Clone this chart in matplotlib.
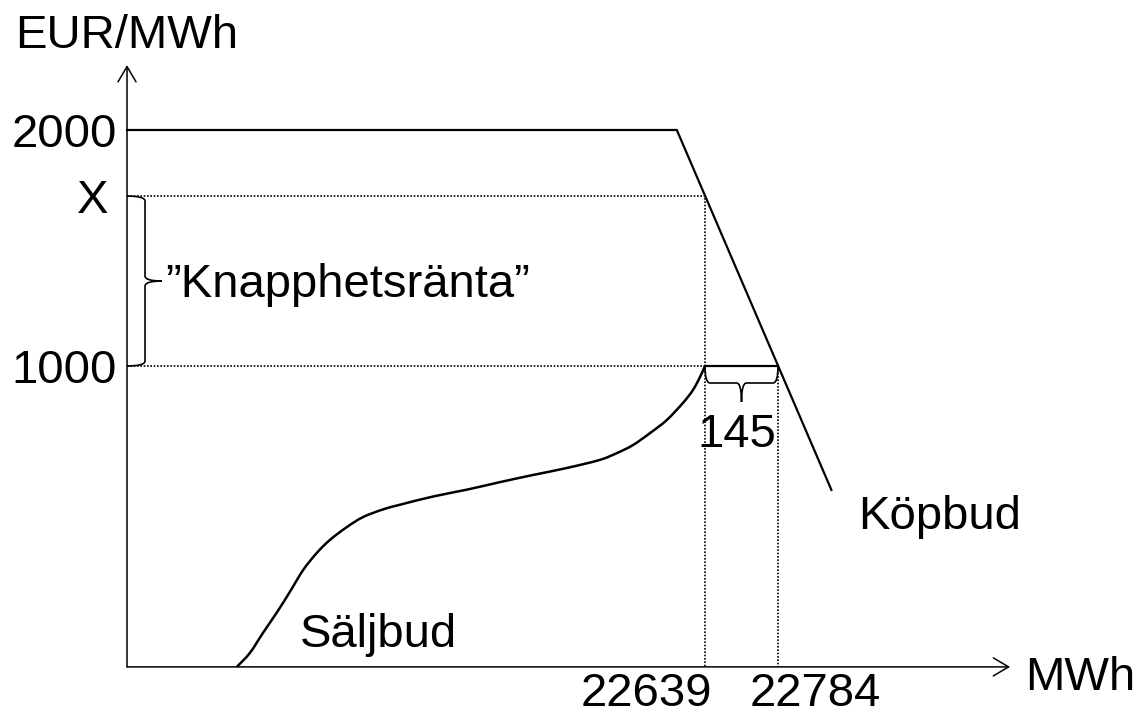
import matplotlib
matplotlib.use('Agg')
import numpy as np
import matplotlib.pyplot as plt
from matplotlib.path import Path
from matplotlib.patches import PathPatch
from matplotlib.transforms import IdentityTransform

plt.rcParams['font.family'] = ['Liberation Sans', 'DejaVu Sans']
FS = 34

# 価格軸 (EUR/MWh)
price_ticks = [2000, 1720, 1000]
price_labels = ['2000', 'X', '1000']
# 量軸 (MWh)
volume_ticks = [22639, 22784]
volume_labels = ['22639', '22784']
gap_label = '145'
premium_label = '”Knapphetsränta”'

# 買い入札 (Köpbud)
buy_x = [21491, 22583, 22890]
buy_y = [2000, 2000, 475]

# 売り入札 (Säljbud)
sell_x = [21709, 21735, 21761, 21789, 21815, 21841, 21868, 21894, 21928, 21960,
          21999, 22033, 22099, 22166, 22232, 22297, 22365, 22430, 22464, 22496,
          22530, 22563, 22595, 22615, 22629, 22639]
sell_y = [-275, -216, -131, -43, 45, 136, 208, 263, 318, 360,
          392, 412, 447, 476, 508, 538, 568, 602, 631, 665,
          716, 771, 843, 898, 953, 1000]

x0, y0 = 21491, -275      # 軸の原点
x_tip, y_tip = 23245, 2275  # 矢印の先


def brace(ax, p0, p1, d, t, r=5, lw=1.2):
    """p0からp1へ向かって右側に膨らむ波括弧を描く(ピクセル単位)"""
    a = np.array(ax.transData.transform(p0))
    b = np.array(ax.transData.transform(p1))
    L = np.hypot(*(b - a))
    u = (b - a) / L
    v = np.array([u[1], -u[0]])
    loc = [(0, 0), (0, d), (r, d), (L / 2 - r, d), (L / 2, d), (L / 2, d + t),
           (L / 2, d), (L / 2 + r, d), (L - r, d), (L, d), (L, 0)]
    verts = [a + p * u + q * v for p, q in loc]
    codes = [Path.MOVETO, Path.CURVE3, Path.CURVE3, Path.LINETO, Path.CURVE3, Path.CURVE3,
             Path.CURVE3, Path.CURVE3, Path.LINETO, Path.CURVE3, Path.CURVE3]
    ax.add_patch(PathPatch(Path(verts, codes), fc='none', ec='black', lw=lw,
                           transform=IdentityTransform()))


def smooth_path(xs, ys):
    """点を通る滑らかな曲線 (Catmull-Rom -> ベジェ)"""
    p = np.column_stack([xs, ys]).astype(float)
    p = np.vstack([p[0], p, p[-1]])
    verts = [p[1]]
    codes = [Path.MOVETO]
    for i in range(1, len(p) - 2):
        c1 = p[i] + (p[i + 1] - p[i - 1]) / 6
        c2 = p[i + 1] - (p[i + 2] - p[i]) / 6
        verts += [c1, c2, p[i + 1]]
        codes += [Path.CURVE4] * 3
    return Path(verts, codes)


fig = plt.figure(figsize=(11.4, 7.16), dpi=100)
ax = fig.add_axes([0, 0, 1, 1])
ax.set_xlim(21238.7, 23503.0)
ax.set_ylim(-483.1, 2550.8)
ax.axis('off')

# 軸
arrow = dict(arrowstyle='->,head_length=1.1,head_width=0.65', lw=1.1, color='black',
             shrinkA=0, shrinkB=0, mutation_scale=10)
ax.annotate('', xy=(x_tip, y0), xytext=(x0, y0), arrowprops=arrow)
ax.annotate('', xy=(x0, y_tip), xytext=(x0, y0), arrowprops=arrow)

# 点線
dot = dict(ls=(0, (1, 1)), lw=1.2, color='black')
ax.plot([x0, volume_ticks[0], volume_ticks[0]], [price_ticks[1], price_ticks[1], y0], **dot)
ax.plot([x0, volume_ticks[0]], [price_ticks[2], price_ticks[2]], **dot)
ax.plot([volume_ticks[1], volume_ticks[1]], [price_ticks[2], y0], **dot)

# 曲線
ax.plot(buy_x, buy_y, color='black', lw=1.6, solid_joinstyle='miter')
ax.add_patch(PathPatch(smooth_path(sell_x, sell_y), fc='none', ec='black', lw=1.8))

# 括弧
brace(ax, (x0, price_ticks[2]), (x0, price_ticks[1]), 18, 17)
ax.plot(volume_ticks, [price_ticks[2]] * 2, color='black', lw=1.6)
brace(ax, (volume_ticks[0], price_ticks[2]), (volume_ticks[1], price_ticks[2]), 17, 19)

# テキスト
def label(s, xy, off, ha):
    ax.annotate(s, xy=xy, xytext=off, textcoords='offset pixels',
                ha=ha, va='baseline', fontsize=FS)

label('EUR/MWh', (x0, y_tip), (-112, 17), 'left')
label(price_labels[0], (x0, price_ticks[0]), (-10, -17), 'right')
label(price_labels[1], (x0, price_ticks[1]), (-19, -17), 'right')
label(price_labels[2], (x0, price_ticks[2]), (-10, -17), 'right')
label(premium_label, (x0, (price_ticks[1] + price_ticks[2]) / 2), (38, -16), 'left')
label(gap_label, (sum(volume_ticks) / 2, price_ticks[2]), (-5, -81), 'center')
label('Köpbud', (buy_x[-1], buy_y[-1]), (27, -39), 'left')
label('Säljbud', (sell_x[0], sell_y[0]), (63, 20), 'left')
label(volume_labels[0], (volume_ticks[0], y0), (7, -39), 'right')
label(volume_labels[1], (volume_ticks[1], y0), (-28, -39), 'left')
label('MWh', (x_tip, y0), (15, -23), 'left')

fig.savefig('out.png', dpi=100)
